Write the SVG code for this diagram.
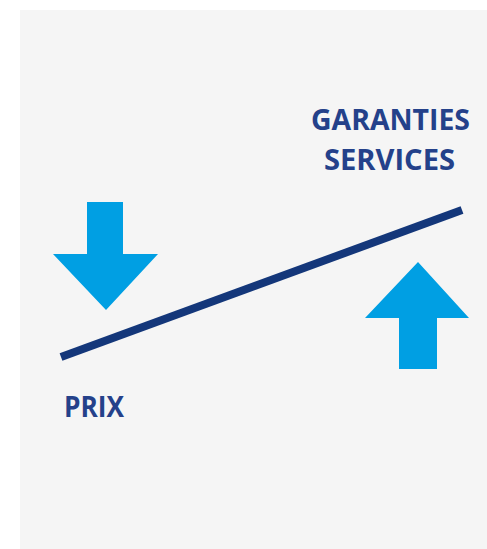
<svg xmlns="http://www.w3.org/2000/svg" width="487" height="549" viewBox="0 0 487 549">
<style>
.lbl{font-family:"Open Sans","Liberation Sans",sans-serif;font-weight:bold;font-size:29px;fill:#24418a}
.arr{fill:#009fe3}
</style>
<rect x="20" y="10" width="467" height="539" fill="#f5f5f5"/>
<g id="connectors">
<line x1="61" y1="357" x2="462" y2="210" stroke="#14377a" stroke-width="8"/>
</g>
<g id="arrow-down">
<polygon class="arr" points="87,202 123,202 123,254 158,254 106,310 53,254 87,254"/>
</g>
<g id="arrow-up">
<polygon class="arr" points="418,262 469,318 437,318 437,369 399,369 399,318 365,318"/>
</g>
<g id="garanties">
<text class="lbl" x="311" y="130" textLength="159" lengthAdjust="spacingAndGlyphs">GARANTIES</text>
<text class="lbl" x="324" y="170" textLength="131" lengthAdjust="spacingAndGlyphs">SERVICES</text>
</g>
<g id="prix">
<text class="lbl" x="64" y="417" textLength="60" lengthAdjust="spacingAndGlyphs">PRIX</text>
</g>
</svg>
